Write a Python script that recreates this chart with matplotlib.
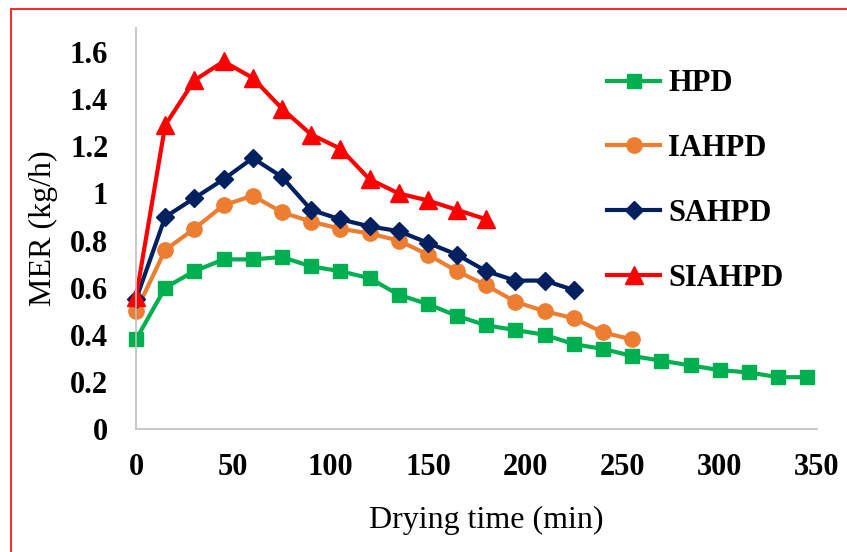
import numpy as np
import matplotlib
matplotlib.use("Agg")
import matplotlib.pyplot as plt
from matplotlib.patches import Rectangle

# Data (MER, kg/h vs drying time, min)
t_hpd = [0, 15, 30, 45, 60, 75, 90, 105, 120, 135, 150, 165, 180, 195, 210,
         225, 240, 255, 270, 285, 300, 315, 330, 345]
mer_hpd = [0.38, 0.60, 0.67, 0.72, 0.72, 0.73, 0.69, 0.67, 0.64, 0.57, 0.53,
           0.48, 0.44, 0.42, 0.40, 0.36, 0.34, 0.31, 0.29, 0.27, 0.25, 0.24,
           0.22, 0.22]

t_iahpd = [0, 15, 30, 45, 60, 75, 90, 105, 120, 135, 150, 165, 180, 195, 210,
           225, 240, 255]
mer_iahpd = [0.50, 0.76, 0.85, 0.95, 0.99, 0.92, 0.88, 0.85, 0.83, 0.80, 0.74,
             0.67, 0.61, 0.54, 0.50, 0.47, 0.41, 0.38]

t_sahpd = [0, 15, 30, 45, 60, 75, 90, 105, 120, 135, 150, 165, 180, 195, 210,
           225]
mer_sahpd = [0.55, 0.90, 0.98, 1.06, 1.15, 1.07, 0.93, 0.89, 0.86, 0.84, 0.79,
             0.74, 0.67, 0.63, 0.63, 0.59]

t_siahpd = [0, 15, 30, 45, 60, 75, 90, 105, 120, 135, 150, 165, 180]
mer_siahpd = [0.56, 1.29, 1.48, 1.56, 1.49, 1.36, 1.25, 1.19, 1.06, 1.00, 0.97,
              0.93, 0.89]

x_ticks = [0, 50, 100, 150, 200, 250, 300, 350]
y_ticks = [0, 0.2, 0.4, 0.6, 0.8, 1.0, 1.2, 1.4, 1.6]
y_ticklabels = ["0", "0.2", "0.4", "0.6", "0.8", "1", "1.2", "1.4", "1.6"]

plt.rcParams['font.family'] = ['Liberation Serif', 'DejaVu Serif']

fig = plt.figure(figsize=(8.47, 5.52), dpi=100)
ax = fig.add_axes([0.1606, 0.2228, 0.804, 0.7256])

ax.plot(t_hpd, mer_hpd, color="#00B050", lw=3, marker="s", ms=10,
        label="HPD", clip_on=False)
ax.plot(t_iahpd, mer_iahpd, color="#ED7D31", lw=3, marker="o", ms=11,
        label="IAHPD", clip_on=False)
ax.plot(t_sahpd, mer_sahpd, color="#002060", lw=3, marker="D", ms=9,
        label="SAHPD", clip_on=False)
ax.plot(t_siahpd, mer_siahpd, color="#FF0000", lw=3, marker="^", ms=13,
        label="SIAHPD", clip_on=False)

ax.set_xlim(0, 350)
ax.set_ylim(0, 1.7)
ax.set_xticks(x_ticks)
ax.set_yticks(y_ticks)
ax.set_yticklabels(y_ticklabels)
ax.tick_params(length=0, labelsize=22)
ax.tick_params(axis="y", pad=20)
ax.tick_params(axis="x", pad=17)
for lab in ax.get_xticklabels() + ax.get_yticklabels():
    lab.set_fontweight("bold")

for side in ["top", "right"]:
    ax.spines[side].set_visible(False)
for side in ["left", "bottom"]:
    ax.spines[side].set_color("#BFBFBF")
    ax.spines[side].set_linewidth(1.2)

fig.text(43 / 847, 1 - 228 / 552, "MER (kg/h)", rotation=90, fontsize=23,
         ha="center", va="center")
fig.text(486 / 847, 1 - 528 / 552, "Drying time (min)", fontsize=23,
         ha="center", va="baseline")

leg = ax.legend(loc="center left", bbox_to_anchor=(607 / 847, 1 - 181 / 552),
                bbox_transform=fig.transFigure, frameon=False, borderpad=0,
                borderaxespad=0, handlelength=1.75, handletextpad=0.25,
                labelspacing=1.17, prop={"size": 22, "weight": "bold"})

# red frame around the chart
fig.patches.append(Rectangle((11 / 847, -0.1), 1.1, 0.1 + 1 - 9 / 552,
                             transform=fig.transFigure, fill=False,
                             edgecolor="red", lw=1.2))

fig.savefig("out.png", dpi=100)
